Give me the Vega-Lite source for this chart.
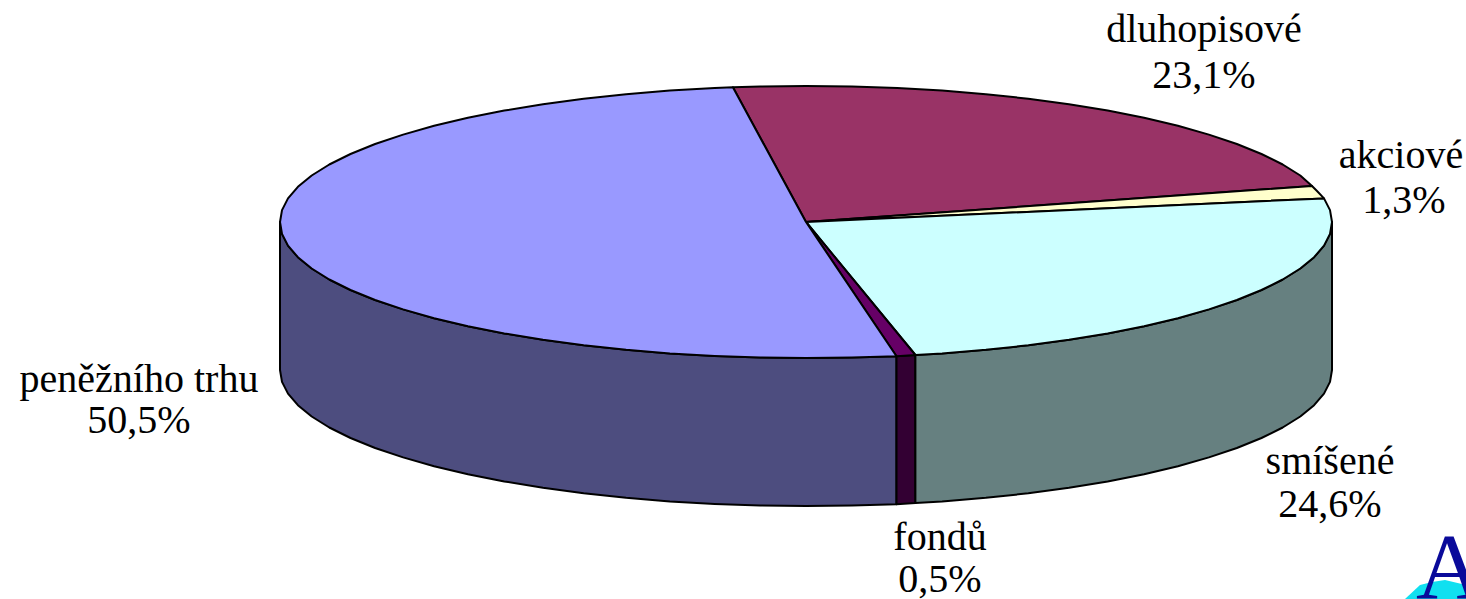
{"$schema":"https://vega.github.io/schema/vega-lite/v6.json","width":1466,"height":599,"padding":0,"autosize":{"type":"none"},"background":"white","config":{"view":{"stroke":null}},
"datasets":{
"walls":[
{"part":"bok peněžního trhu","x":280,"y":222,"yb":370},{"part":"bok peněžního trhu","x":282,"y":233.9,"yb":381.9},{"part":"bok peněžního trhu","x":288,"y":245.6,"yb":393.6},{"part":"bok peněžního trhu","x":297.9,"y":257.2,"yb":405.2},{"part":"bok peněžního trhu","x":311.7,"y":268.5,"yb":416.5},{"part":"bok peněžního trhu","x":329.3,"y":279.5,"yb":427.5},{"part":"bok peněžního trhu","x":350.5,"y":290,"yb":438},{"part":"bok peněžního trhu","x":375.1,"y":300,"yb":448},{"part":"bok peněžního trhu","x":403.1,"y":309.4,"yb":457.4},{"part":"bok peněžního trhu","x":434.1,"y":318.2,"yb":466.2},{"part":"bok peněžního trhu","x":467.9,"y":326.2,"yb":474.2},{"part":"bok peněžního trhu","x":504.3,"y":333.4,"yb":481.4},{"part":"bok peněžního trhu","x":543,"y":339.8,"yb":487.8},{"part":"bok peněžního trhu","x":583.7,"y":345.3,"yb":493.3},{"part":"bok peněžního trhu","x":626.1,"y":349.8,"yb":497.8},{"part":"bok peněžního trhu","x":669.9,"y":353.4,"yb":501.4},{"part":"bok peněžního trhu","x":714.7,"y":355.9,"yb":503.9},{"part":"bok peněžního trhu","x":760.1,"y":357.5,"yb":505.5},{"part":"bok peněžního trhu","x":806,"y":358,"yb":506},{"part":"bok peněžního trhu","x":851.9,"y":357.5,"yb":505.5},{"part":"bok peněžního trhu","x":896.5,"y":356.2,"yb":504.2},
{"part":"bok fondů","x":896.5,"y":356.2,"yb":504.2},{"part":"bok fondů","x":915.4,"y":355,"yb":503},
{"part":"bok smíšené","x":915.4,"y":355,"yb":503},{"part":"bok smíšené","x":942.1,"y":353.4,"yb":501.4},{"part":"bok smíšené","x":985.9,"y":349.8,"yb":497.8},{"part":"bok smíšené","x":1028.3,"y":345.3,"yb":493.3},{"part":"bok smíšené","x":1069,"y":339.8,"yb":487.8},{"part":"bok smíšené","x":1107.7,"y":333.4,"yb":481.4},{"part":"bok smíšené","x":1144.1,"y":326.2,"yb":474.2},{"part":"bok smíšené","x":1177.9,"y":318.2,"yb":466.2},{"part":"bok smíšené","x":1208.9,"y":309.4,"yb":457.4},{"part":"bok smíšené","x":1236.9,"y":300,"yb":448},{"part":"bok smíšené","x":1261.5,"y":290,"yb":438},{"part":"bok smíšené","x":1282.7,"y":279.5,"yb":427.5},{"part":"bok smíšené","x":1300.3,"y":268.5,"yb":416.5},{"part":"bok smíšené","x":1314.1,"y":257.2,"yb":405.2},{"part":"bok smíšené","x":1324,"y":245.6,"yb":393.6},{"part":"bok smíšené","x":1330,"y":233.9,"yb":381.9},{"part":"bok smíšené","x":1332,"y":222,"yb":370}
],
"tops":[
{"part":"dluhopisové","i":0,"x":806,"y":222},{"part":"dluhopisové","i":1,"x":732.9,"y":87.3},{"part":"dluhopisové","i":2,"x":760.1,"y":86.5},{"part":"dluhopisové","i":3,"x":806,"y":86},{"part":"dluhopisové","i":4,"x":851.9,"y":86.5},{"part":"dluhopisové","i":5,"x":897.3,"y":88.1},{"part":"dluhopisové","i":6,"x":942.1,"y":90.6},{"part":"dluhopisové","i":7,"x":985.9,"y":94.2},{"part":"dluhopisové","i":8,"x":1028.3,"y":98.7},{"part":"dluhopisové","i":9,"x":1069,"y":104.2},{"part":"dluhopisové","i":10,"x":1107.7,"y":110.6},{"part":"dluhopisové","i":11,"x":1144.1,"y":117.8},{"part":"dluhopisové","i":12,"x":1177.9,"y":125.8},{"part":"dluhopisové","i":13,"x":1208.9,"y":134.6},{"part":"dluhopisové","i":14,"x":1236.9,"y":144},{"part":"dluhopisové","i":15,"x":1261.5,"y":154},{"part":"dluhopisové","i":16,"x":1282.7,"y":164.5},{"part":"dluhopisové","i":17,"x":1300.3,"y":175.5},{"part":"dluhopisové","i":18,"x":1312,"y":186},{"part":"dluhopisové","i":19,"x":806,"y":222},
{"part":"akciové","i":0,"x":806,"y":222},{"part":"akciové","i":1,"x":1312,"y":186},{"part":"akciové","i":2,"x":1317,"y":191},{"part":"akciové","i":3,"x":1324,"y":198.4},{"part":"akciové","i":4,"x":806,"y":222},
{"part":"smíšené","i":0,"x":806,"y":222},{"part":"smíšené","i":1,"x":1324,"y":198.4},{"part":"smíšené","i":2,"x":1330,"y":210.1},{"part":"smíšené","i":3,"x":1332,"y":222},{"part":"smíšené","i":4,"x":1330,"y":233.9},{"part":"smíšené","i":5,"x":1324,"y":245.6},{"part":"smíšené","i":6,"x":1314.1,"y":257.2},{"part":"smíšené","i":7,"x":1300.3,"y":268.5},{"part":"smíšené","i":8,"x":1282.7,"y":279.5},{"part":"smíšené","i":9,"x":1261.5,"y":290},{"part":"smíšené","i":10,"x":1236.9,"y":300},{"part":"smíšené","i":11,"x":1208.9,"y":309.4},{"part":"smíšené","i":12,"x":1177.9,"y":318.2},{"part":"smíšené","i":13,"x":1144.1,"y":326.2},{"part":"smíšené","i":14,"x":1107.7,"y":333.4},{"part":"smíšené","i":15,"x":1069,"y":339.8},{"part":"smíšené","i":16,"x":1028.3,"y":345.3},{"part":"smíšené","i":17,"x":985.9,"y":349.8},{"part":"smíšené","i":18,"x":942.1,"y":353.4},{"part":"smíšené","i":19,"x":915.4,"y":355},{"part":"smíšené","i":20,"x":806,"y":222},
{"part":"fondů","i":0,"x":806,"y":222},{"part":"fondů","i":1,"x":915.4,"y":355},{"part":"fondů","i":2,"x":896.5,"y":356.2},{"part":"fondů","i":3,"x":806,"y":222},
{"part":"peněžního trhu","i":0,"x":806,"y":222},{"part":"peněžního trhu","i":1,"x":896.5,"y":356.2},{"part":"peněžního trhu","i":2,"x":851.9,"y":357.5},{"part":"peněžního trhu","i":3,"x":806,"y":358},{"part":"peněžního trhu","i":4,"x":760.1,"y":357.5},{"part":"peněžního trhu","i":5,"x":714.7,"y":355.9},{"part":"peněžního trhu","i":6,"x":669.9,"y":353.4},{"part":"peněžního trhu","i":7,"x":626.1,"y":349.8},{"part":"peněžního trhu","i":8,"x":583.7,"y":345.3},{"part":"peněžního trhu","i":9,"x":543,"y":339.8},{"part":"peněžního trhu","i":10,"x":504.3,"y":333.4},{"part":"peněžního trhu","i":11,"x":467.9,"y":326.2},{"part":"peněžního trhu","i":12,"x":434.1,"y":318.2},{"part":"peněžního trhu","i":13,"x":403.1,"y":309.4},{"part":"peněžního trhu","i":14,"x":375.1,"y":300},{"part":"peněžního trhu","i":15,"x":350.5,"y":290},{"part":"peněžního trhu","i":16,"x":329.3,"y":279.5},{"part":"peněžního trhu","i":17,"x":311.7,"y":268.5},{"part":"peněžního trhu","i":18,"x":297.9,"y":257.2},{"part":"peněžního trhu","i":19,"x":288,"y":245.6},{"part":"peněžního trhu","i":20,"x":282,"y":233.9},{"part":"peněžního trhu","i":21,"x":280,"y":222},{"part":"peněžního trhu","i":22,"x":282,"y":210.1},{"part":"peněžního trhu","i":23,"x":288,"y":198.4},{"part":"peněžního trhu","i":24,"x":297.9,"y":186.8},{"part":"peněžního trhu","i":25,"x":311.7,"y":175.5},{"part":"peněžního trhu","i":26,"x":329.3,"y":164.5},{"part":"peněžního trhu","i":27,"x":350.5,"y":154},{"part":"peněžního trhu","i":28,"x":375.1,"y":144},{"part":"peněžního trhu","i":29,"x":403.1,"y":134.6},{"part":"peněžního trhu","i":30,"x":434.1,"y":125.8},{"part":"peněžního trhu","i":31,"x":467.9,"y":117.8},{"part":"peněžního trhu","i":32,"x":504.3,"y":110.6},{"part":"peněžního trhu","i":33,"x":543,"y":104.2},{"part":"peněžního trhu","i":34,"x":583.7,"y":98.7},{"part":"peněžního trhu","i":35,"x":626.1,"y":94.2},{"part":"peněžního trhu","i":36,"x":669.9,"y":90.6},{"part":"peněžního trhu","i":37,"x":714.7,"y":88.1},{"part":"peněžního trhu","i":38,"x":732.9,"y":87.3},{"part":"peněžního trhu","i":39,"x":806,"y":222}
],
"labels":[
{"text":"dluhopisové","x":1204,"y":42},{"text":"23,1%","x":1204,"y":88},
{"text":"akciové","x":1401,"y":168},{"text":"1,3%","x":1404,"y":213},
{"text":"peněžního trhu","x":139,"y":392},{"text":"50,5%","x":139,"y":433},
{"text":"smíšené","x":1330,"y":474},{"text":"24,6%","x":1330,"y":517},
{"text":"fondů","x":940,"y":550},{"text":"0,5%","x":940,"y":592}
],
"logoBack":[{"x":1405,"y":599,"y2":599},{"x":1420,"y":585,"y2":599},{"x":1432,"y":582,"y2":599},{"x":1445,"y":580,"y2":599},{"x":1466,"y":585,"y2":599}],
"logoText":[{"text":"A","x":1450,"y":598}]
},
"layer":[
{"data":{"name":"walls"},
 "mark":{"type":"area","stroke":"black","strokeWidth":2,"strokeJoin":"round"},
 "encoding":{"x":{"field":"x","type":"quantitative","scale":{"domain":[0,1466]},"axis":null},
 "y":{"field":"y","type":"quantitative","scale":{"domain":[599,0]},"axis":null},
 "y2":{"field":"yb"},
 "fill":{"field":"part","type":"nominal","legend":null,"scale":{"domain":["bok peněžního trhu","bok fondů","bok smíšené","dluhopisové","akciové","smíšené","fondů","peněžního trhu"],"range":["#4D4D7F","#330033","#668080","#993366","#FFFFCC","#CCFFFF","#660066","#9999FF"]}}}},
{"data":{"name":"tops"},
 "mark":{"type":"line","stroke":"black","strokeWidth":2,"strokeJoin":"round"},
 "encoding":{"x":{"field":"x","type":"quantitative","scale":{"domain":[0,1466]},"axis":null},
 "y":{"field":"y","type":"quantitative","scale":{"domain":[599,0]},"axis":null},
 "order":{"field":"i","type":"quantitative"},
 "detail":{"field":"part"},
 "fill":{"field":"part","type":"nominal","legend":null,"scale":{"domain":["bok peněžního trhu","bok fondů","bok smíšené","dluhopisové","akciové","smíšené","fondů","peněžního trhu"],"range":["#4D4D7F","#330033","#668080","#993366","#FFFFCC","#CCFFFF","#660066","#9999FF"]}}}},
{"data":{"name":"labels"},
 "mark":{"type":"text","font":"Liberation Serif","fontSize":40,"align":"center","baseline":"alphabetic","color":"black"},
 "encoding":{"x":{"field":"x","type":"quantitative","scale":{"domain":[0,1466]},"axis":null},
 "y":{"field":"y","type":"quantitative","scale":{"domain":[599,0]},"axis":null},
 "text":{"field":"text"}}},
{"data":{"name":"logoBack"},
 "mark":{"type":"area","color":"#10E0F0"},
 "encoding":{"x":{"field":"x","type":"quantitative","scale":{"domain":[0,1466]},"axis":null},
 "y":{"field":"y","type":"quantitative","scale":{"domain":[599,0]},"axis":null},
 "y2":{"field":"y2"}}},
{"data":{"name":"logoText"},
 "mark":{"type":"text","font":"Liberation Serif","fontSize":94,"align":"center","baseline":"alphabetic","color":"#0A0A9A"},
 "encoding":{"x":{"field":"x","type":"quantitative","scale":{"domain":[0,1466]},"axis":null},
 "y":{"field":"y","type":"quantitative","scale":{"domain":[599,0]},"axis":null},
 "text":{"field":"text"}}}
]}
